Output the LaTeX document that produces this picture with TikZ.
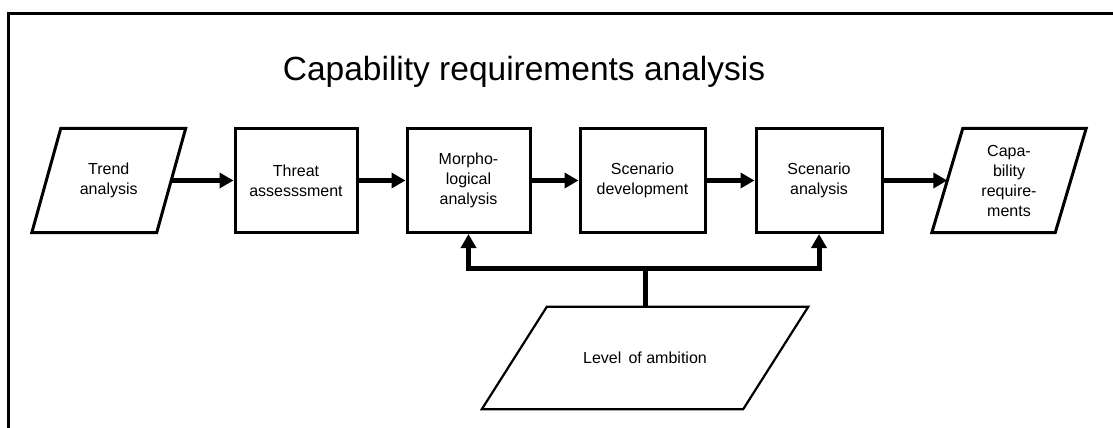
\documentclass[tikz,border=0pt]{standalone}
\usepackage{fontspec}
\setmainfont{Liberation Sans}
\usetikzlibrary{arrows.meta,calc}
\tikzset{
  procbox/.style={draw, line width=3pt, align=center, inner sep=0pt,
    font=\fontsize{16}{20}\selectfont},
  databox/.style={align=center, inner sep=0pt, font=\fontsize{16}{20}\selectfont},
  flowarrow/.style={line width=5pt, -{Triangle[length=14pt,width=15pt]}},
  flowline/.style={line width=5pt},
  frameline/.style={line width=3pt},
}
\newcommand{\parallelo}[3]{% node, slant offset, line width
  \draw[line width=#3, line join=miter]
    ($(#1.north west)+(#2,0)$) -- ($(#1.north east)+(#2,0)$) --
    ($(#1.south east)-(#2,0)$) -- ($(#1.south west)-(#2,0)$) -- cycle;}
\begin{document}
\begin{tikzpicture}[x=1pt,y=-1pt]
\useasboundingbox (0,0) rectangle (1113,428);
% frame
\draw[frameline] (8.5,430) -- (8.5,14) -- (1115,14);
% title
\node[anchor=base, font=\fontsize{33.5}{40}\selectfont] (title) at (524,80) {Capability requirements analysis};
% nodes
\node[databox, minimum width=124.5pt, minimum height=104pt] (trend) at (108.75,180.5) {Trend\\analysis};
\node[procbox, minimum width=122pt, minimum height=104pt] (threat) at (296,180.5) {Threat\\assesssment};
\node[procbox, minimum width=123pt, minimum height=104pt] (morph) at (468.5,180.5) {Morpho-\\logical\\analysis};
\node[procbox, minimum width=125pt, minimum height=104pt] (scendev) at (642.5,180.5) {Scenario\\development};
\node[procbox, minimum width=126pt, minimum height=104pt] (scenana) at (819,180.5) {Scenario\\analysis};
\node[databox, minimum width=123pt, minimum height=104pt] (capreq) at (1009,180.5) {Capa-\\bility\\require-\\ments};
\node[databox, minimum width=261pt, minimum height=102pt] (level) at (645,358) {Level\, of ambition};
\parallelo{trend}{14.5pt}{3pt}
\parallelo{capreq}{15.5pt}{3pt}
\parallelo{level}{32.5pt}{2.2pt}
% connectors
\draw[flowarrow] (trend) -- (threat);
\draw[flowarrow] (threat) -- (morph);
\draw[flowarrow] (morph) -- (scendev);
\draw[flowarrow] (scendev) -- (scenana);
\draw[flowarrow] (scenana) -- (capreq);
\draw[flowline] (level.north) -- ++(0,-38) coordinate (junc);
\draw[flowarrow] (junc) -| (morph.south);
\draw[flowarrow] (junc) -| (scenana.south);
\end{tikzpicture}
\end{document}
